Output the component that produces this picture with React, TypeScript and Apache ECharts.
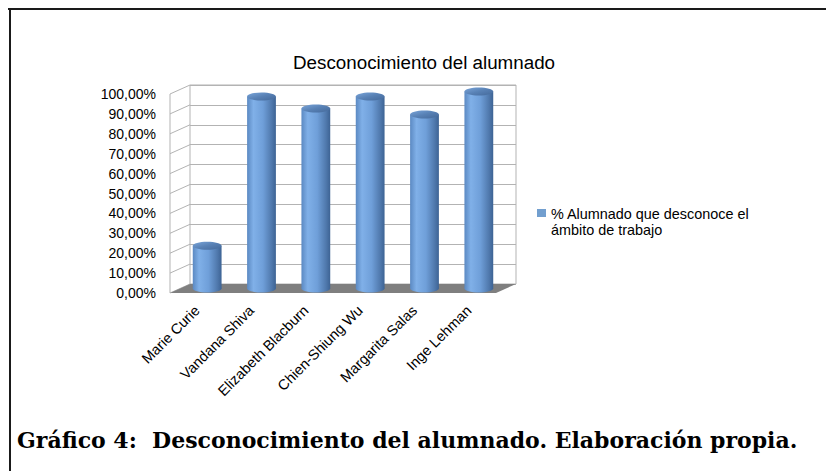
import React, { useEffect, useRef } from 'react';
import * as echarts from 'echarts';

const categories = ['Marie Curie', 'Vandana Shiva', 'Elizabeth Blacburn', 'Chien-Shiung Wu', 'Margarita Salas', 'Inge Lehman'];
const values = [21.5, 96.5, 90.5, 96.5, 87.5, 99];
const yTicks = [0, 10, 20, 30, 40, 50, 60, 70, 80, 90, 100];
const seriesName = '% Alumnado que desconoce el\námbito de trabajo';
const chartTitle = 'Desconocimiento del alumnado';
const caption = 'Gráfico 4:  Desconocimiento del alumnado. Elaboración propia.';

const DX = 20;
const DY = -9;
const FONT = '"Liberation Sans", Arial, sans-serif';
const GRID_COLOR = '#b3b3b3';

export default function App() {
  const ref = useRef<HTMLDivElement>(null);
  useEffect(() => {
    if (!ref.current) return;
    const chart = echarts.init(ref.current, undefined, { renderer: 'svg' });
    const bodyGrad = new echarts.graphic.LinearGradient(0, 0, 1, 0, [
      { offset: 0, color: '#5b89c2' },
      { offset: 0.22, color: '#80b0e8' },
      { offset: 0.55, color: '#6f9fd9' },
      { offset: 0.85, color: '#5079ad' },
      { offset: 1, color: '#3d6394' },
    ]);
    const topGrad = new echarts.graphic.LinearGradient(0, 0, 1, 1, [
      { offset: 0, color: '#7ba6da' },
      { offset: 0.5, color: '#5881b5' },
      { offset: 1, color: '#44699a' },
    ]);
    const option: any = {
      animation: false,
      backgroundColor: '#ffffff',
      title: {
        text: chartTitle,
        left: 293,
        top: 53,
        padding: 0,
        textStyle: { fontSize: 18.8, fontWeight: 'normal', color: '#000', fontFamily: FONT },
      },
      legend: {
        data: [seriesName],
        left: 537,
        top: 206,
        padding: 0,
        orient: 'vertical',
        itemWidth: 9,
        itemHeight: 26,
        icon: 'path://M0,0L9,0L9,8L0,8Z M0,26L0.001,26Z',
        textStyle: { fontSize: 14.4, lineHeight: 16, color: '#000', fontFamily: FONT },
        selectedMode: false,
      },
      grid: [
        { left: 190, top: 85, width: 326, height: 199, show: true, borderColor: GRID_COLOR, borderWidth: 1, backgroundColor: '#fff' },
        { left: 170, top: 94, width: 326, height: 199 },
      ],
      xAxis: [
        { gridIndex: 0, type: 'category', data: categories, show: false },
        {
          gridIndex: 1,
          type: 'category',
          data: categories,
          axisLine: { show: false },
          axisTick: { show: false },
          axisLabel: { interval: 0, rotate: 45, margin: 15, fontSize: 14.5, color: '#000', fontFamily: FONT },
        },
      ],
      yAxis: [
        {
          gridIndex: 0, type: 'value', min: 0, max: 100, interval: 10,
          axisLabel: { show: false }, axisLine: { show: false }, axisTick: { show: false },
          splitLine: { lineStyle: { color: GRID_COLOR, width: 1 } },
        },
        {
          gridIndex: 1, type: 'value', min: 0, max: 100, interval: 10,
          axisLine: { show: false }, axisTick: { show: false }, splitLine: { show: false },
          axisLabel: {
            margin: 14, fontSize: 14, color: '#000', fontFamily: FONT,
            formatter: (v: number) => v.toFixed(2).replace('.', ',') + '%',
          },
        },
      ],
      series: [
        {
          type: 'custom',
          name: 'walls',
          xAxisIndex: 1,
          yAxisIndex: 1,
          z: 1,
          silent: true,
          data: yTicks.map((v) => [0, v]),
          encode: { x: 0, y: 1 },
          renderItem: (params: any, api: any) => {
            const cs = params.coordSys;
            const v = api.value(1);
            const y = api.coord([0, v])[1];
            const children: any[] = [
              { type: 'line', shape: { x1: cs.x, y1: y, x2: cs.x + DX, y2: y + DY }, style: { stroke: GRID_COLOR, lineWidth: 1 } },
            ];
            if (params.dataIndex === 0) {
              children.push({ type: 'line', shape: { x1: cs.x, y1: cs.y, x2: cs.x, y2: cs.y + cs.height }, style: { stroke: GRID_COLOR, lineWidth: 1 } });
            }
            return { type: 'group', children };
          },
        },
        {
          type: 'custom',
          name: 'floor',
          xAxisIndex: 1,
          yAxisIndex: 1,
          z: 2,
          silent: true,
          data: [[0, 0]],
          encode: { x: 0, y: 1 },
          renderItem: (params: any, api: any) => {
            const cs = params.coordSys;
            const yb = api.coord([0, 0])[1];
            return {
              type: 'polygon',
              shape: {
                points: [
                  [cs.x, yb],
                  [cs.x + DX, yb + DY],
                  [cs.x + cs.width + DX, yb + DY],
                  [cs.x + cs.width, yb],
                ],
              },
              style: { fill: '#7f7f7f' },
            };
          },
        },
        {
          type: 'custom',
          name: seriesName,
          xAxisIndex: 1,
          yAxisIndex: 1,
          z: 3,
          itemStyle: { color: '#729fcf' },
          data: categories.map((c, i) => [i, values[i]]),
          encode: { x: 0, y: 1 },
          renderItem: (params: any, api: any) => {
            const i = api.value(0);
            const v = api.value(1);
            const base = api.coord([i, 0]);
            const top = api.coord([i, v]);
            const bw = api.size([1, 0])[0] * 0.53;
            const rx = bw / 2;
            const ry = 4;
            const cx = base[0] + DX / 2;
            const yb = base[1] + DY / 2;
            const yt = top[1] + DY / 2;
            return {
              type: 'group',
              children: [
                { type: 'ellipse', shape: { cx, cy: yb, rx, ry }, style: { fill: bodyGrad } },
                { type: 'rect', shape: { x: cx - rx, y: yt, width: bw, height: yb - yt }, style: { fill: bodyGrad } },
                { type: 'ellipse', shape: { cx, cy: yt, rx, ry }, style: { fill: topGrad } },
              ],
            };
          },
        },
      ],
      graphic: [
        { type: 'line', shape: { x1: 8, y1: 9, x2: 826, y2: 9 }, style: { stroke: '#1a1a1a', lineWidth: 2 } },
        { type: 'line', shape: { x1: 10, y1: 8, x2: 10, y2: 471 }, style: { stroke: '#1a1a1a', lineWidth: 2 } },
        {
          type: 'text',
          left: 17,
          top: 429,
          style: { text: caption, font: 'bold 22px "DejaVu Serif"', fill: '#000' },
        },
      ],
    };
    chart.setOption(option);
    return () => chart.dispose();
  }, []);
  return (
    <div
      ref={ref}
      style={{ position: 'absolute', left: 0, top: 0, width: 826, height: 471, background: '#fff' }}
    />
  );
}
